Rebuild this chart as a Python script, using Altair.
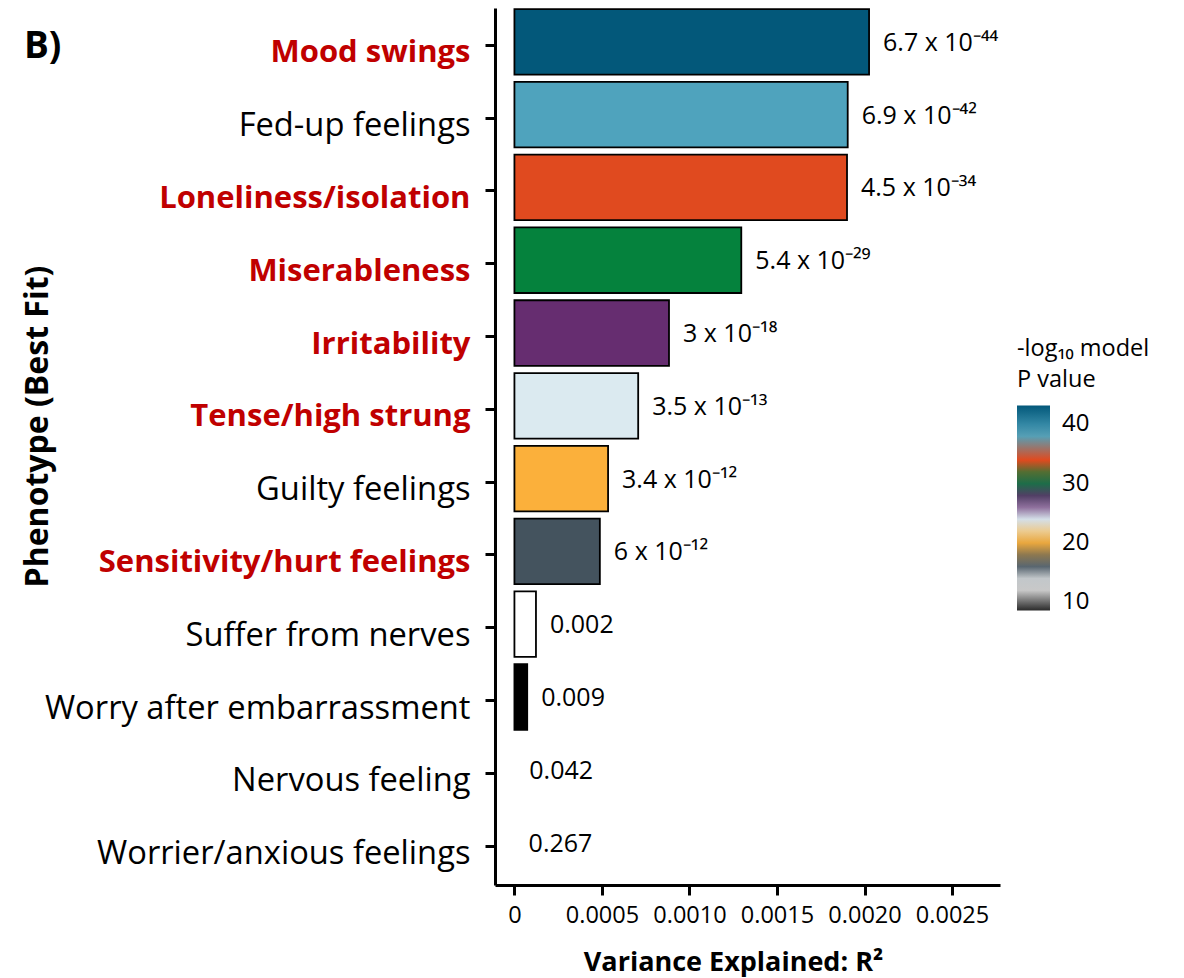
import altair as alt
import pandas as pd

# ---- data ----
phenotypes = [
    "Mood swings", "Fed-up feelings", "Loneliness/isolation", "Miserableness",
    "Irritability", "Tense/high strung", "Guilty feelings",
    "Sensitivity/hurt feelings", "Suffer from nerves",
    "Worry after embarrassment", "Nervous feeling", "Worrier/anxious feelings",
]
r2 = [0.002026, 0.001904, 0.001900, 0.001296, 0.000883, 0.000707,
      0.000535, 0.000488, 0.000123, 0.000073, 0.000005, 0.000001]
p_labels = ["6.7 x 10⁻⁴⁴", "6.9 x 10⁻⁴²", "4.5 x 10⁻³⁴", "5.4 x 10⁻²⁹",
            "3 x 10⁻¹⁸", "3.5 x 10⁻¹³", "3.4 x 10⁻¹²", "6 x 10⁻¹²",
            "0.002", "0.009", "0.042", "0.267"]
bar_colors = ["#03587a", "#4fa3bd", "#e04a1f", "#05823d", "#662d70",
              "#dbeaf0", "#fbb03b", "#44535e", "#ffffff", "#000000",
              "#ffffff", "#ffffff"]
highlighted = ["Mood swings", "Loneliness/isolation", "Miserableness",
               "Irritability", "Tense/high strung", "Sensitivity/hurt feelings"]

# colour bar of the legend (-log10 model P value)
legend_stops = [8.6, 13.0, 16.4, 20.4, 23.8, 27.2, 30.9, 34.0, 38.2, 43.2]
legend_colors = ["#2a2a2a", "#f7f7f7", "#44535e", "#fbb03b", "#dbeaf0",
                 "#662d70", "#05823d", "#e04a1f", "#4fa3bd", "#03587a"]
legend_ticks = [10, 20, 30, 40]

x_ticks = [0, 0.0005, 0.0010, 0.0015, 0.0020, 0.0025]
x_domain = [-0.000111, 0.002774]

df = pd.DataFrame({"phenotype": phenotypes, "r2": r2, "label": p_labels,
                   "fill": bar_colors})
leg_df = pd.DataFrame({"v": legend_stops})
panel_df = pd.DataFrame({"t": ["B)"]})

FONT = "Open Sans"
red_test = "indexof([" + ",".join("'" + h + "'" for h in highlighted) + "], datum.value) >= 0"

y_enc = alt.Y(
    "phenotype:N", sort=phenotypes,
    scale=alt.Scale(paddingInner=0.1, paddingOuter=0.0735, align=0.1),
    axis=alt.Axis(
        title="Phenotype (Best Fit)", titleFontSize=32, titleFontWeight="bold",
        titleX=-448, titleY=418, titleBaseline="alphabetic", titleColor="black",
        labelFontSize={"condition": {"test": red_test, "value": 31}, "value": 32.7},
        labelPadding=15, labelLimit=600, labelOffset=8,
        labelColor={"condition": {"test": red_test, "value": "#c00000"}, "value": "black"},
        labelFontWeight={"condition": {"test": red_test, "value": "bold"}, "value": "normal"},
        tickSize=10, tickWidth=3, tickColor="black", tickOffset=3,
        domainWidth=3, domainColor="black", grid=False,
    ),
)
x_enc = alt.X(
    "r2:Q",
    scale=alt.Scale(domain=x_domain, nice=False, zero=False),
    axis=alt.Axis(
        title="Variance Explained: R²", titleFontSize=27, titleFontWeight="bold",
        titleX=238, titleY=85, titleBaseline="alphabetic", titleColor="black",
        values=x_ticks,
        labelExpr="datum.value == 0 ? '0' : format(datum.value, '.4f')",
        labelFontSize=23.5, labelPadding=8, labelColor="black",
        tickSize=10, tickWidth=3, tickColor="black",
        domainWidth=3, domainColor="black", grid=False,
    ),
)

bars = alt.Chart(df).mark_bar(strokeWidth=1.8).encode(
    y=y_enc,
    x=x_enc,
    x2=alt.datum(0),
    fill=alt.Fill("fill:N", scale=None),
    stroke=alt.condition("datum.r2 > 0.00002", alt.value("black"), alt.value("transparent")),
)

texts = alt.Chart(df).mark_text(
    align="left", baseline="middle", dx=14, dy=1, fontSize=25, font=FONT, color="black"
).encode(y=alt.Y("phenotype:N", sort=phenotypes), x="r2:Q", text="label:N")

legend_layer = alt.Chart(leg_df).mark_point(size=0, filled=True, opacity=1).encode(
    color=alt.Color(
        "v:Q",
        scale=alt.Scale(domain=legend_stops, range=legend_colors, interpolate="rgb"),
        legend=alt.Legend(
            title=["-log₁₀ model", "P value"], titleFontSize=23.5,
            titleFontWeight="normal", titleLineHeight=31, titlePadding=14,
            titleColor="black", values=legend_ticks,
            orient="none", legendX=522, legendY=329, direction="vertical",
            gradientLength=205, gradientThickness=33, gradientStrokeWidth=0,
            labelFontSize=24, labelOffset=12, labelColor="black",
            tickCount=4,
        ),
    )
)

panel = alt.Chart(panel_df).mark_text(
    align="left", baseline="alphabetic", fontSize=37, fontWeight="bold",
    font=FONT, color="black"
).encode(text="t:N", x=alt.value(-471), y=alt.value(50))

chart = alt.layer(bars, texts, legend_layer, panel).properties(
    width=505, height=877,
    autosize=alt.AutoSizeParams(type="none"),
    padding={"left": 487, "top": 0, "right": 170, "bottom": 92},
).configure(font=FONT).configure_view(stroke=None)

chart.save("out.html", embed_options={"renderer": "svg", "actions": False})
